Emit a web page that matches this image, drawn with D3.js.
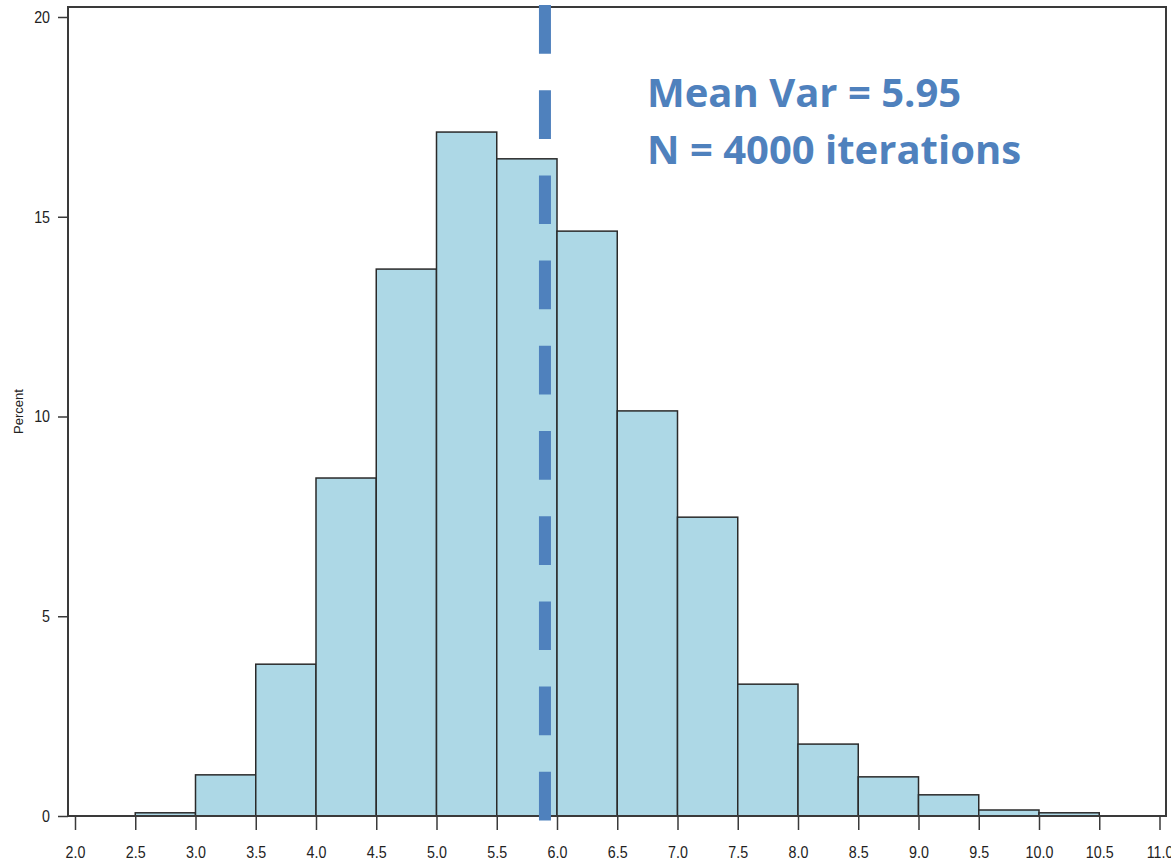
<!DOCTYPE html>
<html>
<head>
<meta charset="utf-8">
<script src="https://cdn.jsdelivr.net/npm/d3@7"></script>
<style>
  body { margin: 0; background: #fff; }
</style>
</head>
<body>
<div class="hist"></div>
<script>
// bins of 0.5 width, value = left edge
let binStarts = [2.5, 3.0, 3.5, 4.0, 4.5, 5.0, 5.5, 6.0, 6.5, 7.0, 7.5, 8.0, 8.5, 9.0, 9.5, 10.0]
let percents = [0.08, 1.03, 3.80, 8.46, 13.69, 17.12, 16.45, 14.64, 10.14, 7.48, 3.30, 1.80, 0.98, 0.53, 0.15, 0.08]
let binWidth = 0.5

let xTicks = [2.0, 2.5, 3.0, 3.5, 4.0, 4.5, 5.0, 5.5, 6.0, 6.5, 7.0, 7.5, 8.0, 8.5, 9.0, 9.5, 10.0, 10.5, 11.0]
let yTicks = [0, 5, 10, 15, 20]

let meanLine = 5.9
let notes = ['Mean Var = 5.95', 'N = 4000 iterations']

let width = 1171
let height = 865

let xScale = d3.scaleLinear()
                .domain([2, 11])
                .range([75, 1159.5])

let yScale = d3.scaleLinear()
                .domain([0, 20])
                .range([816, 17])

let svg = d3.select('.hist')
            .append('svg')
            .attr('width', width)
            .attr('height', height)

// narrow look for tick labels: squeeze a normal sans horizontally
let squeeze = 0.84

// bars
svg.selectAll('rect.bar')
    .data(percents)
    .enter()
    .append('rect')
    .attr('class', 'bar')
    .attr('x', (d, i) => xScale(binStarts[i]))
    .attr('width', (d, i) => xScale(binStarts[i] + binWidth) - xScale(binStarts[i]))
    .attr('y', d => yScale(d))
    .attr('height', d => yScale(0) - yScale(d))
    .attr('fill', '#add8e6')
    .attr('stroke', '#2a2a2a')
    .attr('stroke-width', 1.5)

// frame
svg.append('rect')
    .attr('x', 68)
    .attr('y', 7)
    .attr('width', 1166 - 68)
    .attr('height', yScale(0) - 7)
    .attr('fill', 'none')
    .attr('stroke', '#3a3a3a')
    .attr('stroke-width', 2)

// dashed mean line
svg.append('line')
    .attr('x1', xScale(meanLine))
    .attr('x2', xScale(meanLine))
    .attr('y1', 5)
    .attr('y2', yScale(0) + 5)
    .attr('stroke', '#4f81bd')
    .attr('stroke-width', 12)
    .attr('stroke-dasharray', '48.7 36.5')

let xAxis = d3.axisBottom(xScale)
                .tickValues(xTicks)
                .tickFormat(d3.format('.1f'))
                .tickSize(14)
                .tickSizeOuter(0)
                .tickPadding(16)

let yAxis = d3.axisLeft(yScale)
                .tickValues(yTicks)
                .tickSize(10)
                .tickSizeOuter(0)
                .tickPadding(8)

let gx = svg.append('g')
    .attr('transform', `translate(0, ${yScale(0)})`)
    .call(xAxis)

let gy = svg.append('g')
    .attr('transform', 'translate(68, 0)')
    .call(yAxis)

;[gx, gy].forEach(g => {
    g.select('.domain').remove()
    g.selectAll('line').attr('stroke', '#3a3a3a').attr('stroke-width', 1.5)
    g.selectAll('text')
        .attr('fill', '#222')
        .style('font-family', '"Liberation Sans", Arial, sans-serif')
        .style('font-size', '17px')
})

gx.selectAll('text').attr('transform', `scale(${squeeze}, 1)`)
gy.selectAll('text')
    .attr('x', -18 / squeeze)
    .attr('transform', `scale(${squeeze}, 1)`)

svg.append('text')
    .attr('transform', `translate(23, ${(yScale(0) + 7) / 2}) rotate(-90)`)
    .attr('text-anchor', 'middle')
    .style('font-family', '"Liberation Sans", Arial, sans-serif')
    .style('font-size', '13px')
    .attr('fill', '#222')
    .text('Percent')

notes.forEach((t, i) => {
    svg.append('text')
        .attr('x', 647)
        .attr('y', 107 + i * 57)
        .style('font-family', '"Open Sans", Lato, sans-serif')
        .style('font-weight', 'bold')
        .style('font-size', '40px')
        .attr('fill', '#4f81bd')
        .text(t)
})
</script>
</body>
</html>
